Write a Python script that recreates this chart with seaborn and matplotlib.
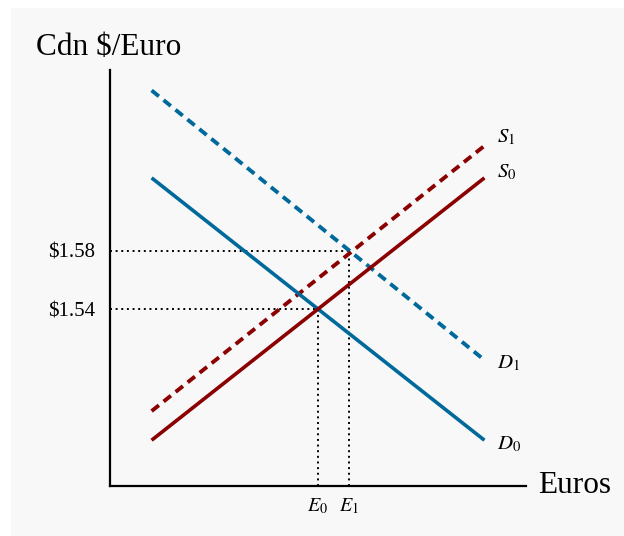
import numpy as np
import pandas as pd
import matplotlib.pyplot as plt
import matplotlib.patches as patches
import seaborn as sns

# data: quantity of euros vs price (Cdn $ per euro)
qty = [1, 9]
d0 = [1.63, 1.45]
d1 = [1.69, 1.505]
s0 = [1.45, 1.63]
s1 = [1.47, 1.652]
eq_qty = [5, 5.75]
eq_price = [1.54, 1.58]
price_labels = ['$1.54', '$1.58']
eq_labels = [r'$E_0$', r'$E_1$']

blue = '#00699b'
red = '#8b0000'

sns.set_style('white')
plt.rcParams['font.family'] = ['Liberation Serif', 'DejaVu Serif']
plt.rcParams['mathtext.fontset'] = 'stix'
plt.rcParams['text.color'] = 'black'
plt.rcParams['ytick.color'] = 'black'
plt.rcParams['xtick.color'] = 'black'

fig = plt.figure(figsize=(6.24, 5.36), dpi=100)
fig.patch.set_facecolor('white')
fig.patches.append(patches.Rectangle((11 / 624, 0), 1, 1 - 8 / 536, transform=fig.transFigure,
                                     facecolor='#f8f8f8', edgecolor='none', zorder=-5))
ax = fig.add_axes([0.1763, 0.0933, 0.6667, 0.7761])
ax.set_facecolor('none')

df = pd.DataFrame({'qty': qty, 'D0': d0, 'D1': d1, 'S0': s0, 'S1': s1})

# dotted guide lines
for q, p in zip(eq_qty, eq_price):
    ax.plot([0, q], [p, p], color='black', lw=1.4, dashes=(1, 1.9), zorder=1)
    ax.plot([q, q], [1.4186, p], color='black', lw=1.4, dashes=(1, 1.9), zorder=1)

sns.lineplot(data=df, x='qty', y='D1', color=blue, lw=2.8, ax=ax)
ax.lines[-1].set_dashes((2.4, 1.55))
sns.lineplot(data=df, x='qty', y='S1', color=red, lw=2.8, ax=ax)
ax.lines[-1].set_dashes((2.4, 1.55))
sns.lineplot(data=df, x='qty', y='D0', color=blue, lw=2.6, ax=ax)
sns.lineplot(data=df, x='qty', y='S0', color=red, lw=2.6, ax=ax)
for l in ax.lines:
    l.set_solid_capstyle('butt')
    l.set_dash_capstyle('butt')

# curve labels
ax.text(9.3, 1.658, r'$S_1$', fontsize=15, va='center', ha='left')
ax.text(9.3, 1.634, r'$S_0$', fontsize=15, va='center', ha='left')
ax.text(9.3, 1.503, r'$D_1$', fontsize=15, va='center', ha='left')
ax.text(9.3, 1.447, r'$D_0$', fontsize=15, va='center', ha='left')

for q, lab in zip(eq_qty, eq_labels):
    ax.text(q, -0.05, lab, fontsize=14.5, va='center', ha='center',
            transform=ax.get_xaxis_transform())

ax.set_xlim(0, 10)
ax.set_ylim(1.4186, 1.704)
ax.set_xticks([])
ax.set_yticks(eq_price)
ax.set_yticklabels(price_labels, fontsize=15)
ax.tick_params(axis='y', length=0, pad=11)
ax.set_xlabel('')
ax.set_ylabel('')

sns.despine(ax=ax)
for side in ['left', 'bottom']:
    ax.spines[side].set_linewidth(1.6)
    ax.spines[side].set_color('black')

fig.text(36 / 624, 1 - 55 / 536, 'Cdn $/Euro', fontsize=22.5, va='baseline', ha='left')
ax.text(1.029, 0, 'Euros', fontsize=22.5, va='center', ha='left', transform=ax.transAxes)

fig.savefig('out.png', dpi=100)
